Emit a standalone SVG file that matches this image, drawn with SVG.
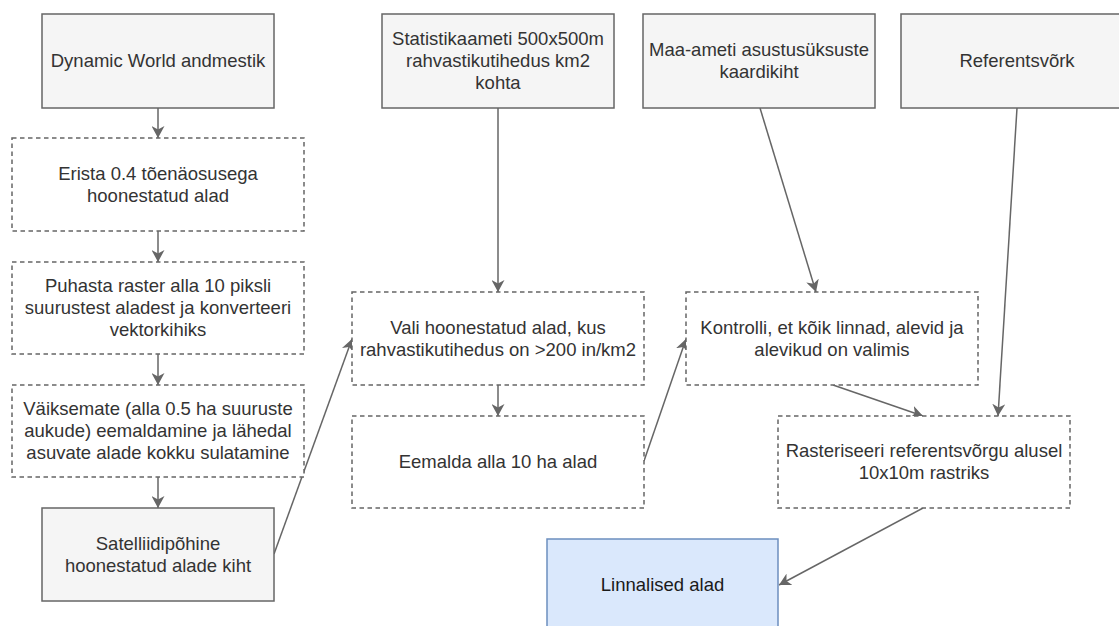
<svg xmlns="http://www.w3.org/2000/svg" width="1119" height="626" viewBox="0 0 1119 626">
  <style>
    .src { fill: #f5f5f5; stroke: #666666; stroke-width: 1.5; }
    .step { fill: #ffffff; stroke: #666666; stroke-width: 1.5; stroke-dasharray: 4.5 3.5; }
    .out { fill: #dae8fc; stroke: #6c8ebf; stroke-width: 1.5; }
    text { font-family: "Liberation Sans", Arial, sans-serif; font-size: 18.5px; fill: #333333; text-anchor: middle; }
    .dark { fill: #1a1a1a; }
    .edge { fill: none; stroke: #666666; stroke-width: 1.5; marker-end: url(#arrow); }
  </style>
  <defs>
    <marker id="arrow" viewBox="0 0 12 13" refX="12" refY="6.5" markerWidth="12" markerHeight="13" markerUnits="userSpaceOnUse" orient="auto">
      <path d="M0,0 L12,6.5 L0,13 L3.5,6.5 Z" fill="#666666"/>
    </marker>
  </defs>
  <rect width="1119" height="626" fill="#ffffff"/>

  <!-- connectors -->
  <g id="connectors">
    <path class="edge" d="M158,108 L158,138"/>
    <path class="edge" d="M158,231 L158,262"/>
    <path class="edge" d="M158,354 L158,385"/>
    <path class="edge" d="M158,477 L158,508"/>
    <path class="edge" d="M274,554 L352,339"/>
    <path class="edge" d="M498,108 L498,292"/>
    <path class="edge" d="M498,385 L498,416"/>
    <path class="edge" d="M644,461 L686,339"/>
    <path class="edge" d="M760,108 L816,292"/>
    <path class="edge" d="M1017,108 L998,416"/>
    <path class="edge" d="M833,385 L923,416"/>
    <path class="edge" d="M923,508 L779,585"/>
  </g>

  <!-- left column -->
  <g id="dynamic-world">
    <rect class="src" x="42" y="14" width="232" height="94"/>
    <text x="158" y="67">Dynamic World andmestik</text>
  </g>
  <g id="erista">
    <rect class="step" x="12" y="138" width="292" height="93"/>
    <text x="158" y="179.5">Erista 0.4 tõenäosusega</text>
    <text x="158" y="201.5">hoonestatud alad</text>
  </g>
  <g id="puhasta">
    <rect class="step" x="12" y="262" width="292" height="92"/>
    <text x="158" y="292">Puhasta raster alla 10 piksli</text>
    <text x="158" y="314">suurustest aladest ja konverteeri</text>
    <text x="158" y="336">vektorkihiks</text>
  </g>
  <g id="vaiksemate">
    <rect class="step" x="12" y="385" width="292" height="92"/>
    <text x="158" y="415">Väiksemate (alla 0.5 ha suuruste</text>
    <text x="158" y="437">aukude) eemaldamine ja lähedal</text>
    <text x="158" y="459">asuvate alade kokku sulatamine</text>
  </g>
  <g id="satelliidipohine">
    <rect class="src" x="42" y="508" width="232" height="93"/>
    <text x="158" y="550">Satelliidipõhine</text>
    <text x="158" y="572">hoonestatud alade kiht</text>
  </g>

  <!-- middle column -->
  <g id="statistikaamet">
    <rect class="src" x="382" y="14" width="232" height="94"/>
    <text x="498" y="45">Statistikaameti 500x500m</text>
    <text x="498" y="67">rahvastikutihedus km2</text>
    <text x="498" y="89">kohta</text>
  </g>
  <g id="vali">
    <rect class="step" x="352" y="292" width="292" height="93"/>
    <text x="498" y="333.5">Vali hoonestatud alad, kus</text>
    <text x="498" y="355.5">rahvastikutihedus on &gt;200 in/km2</text>
  </g>
  <g id="eemalda">
    <rect class="step" x="352" y="416" width="292" height="92"/>
    <text x="498" y="468">Eemalda alla 10 ha alad</text>
  </g>

  <!-- right columns -->
  <g id="maa-amet">
    <rect class="src" x="643" y="14" width="232" height="94"/>
    <text x="759" y="56">Maa-ameti asustusüksuste</text>
    <text x="759" y="78">kaardikiht</text>
  </g>
  <g id="referentsvork">
    <rect class="src" x="901" y="14" width="232" height="94"/>
    <text x="1017" y="67">Referentsvõrk</text>
  </g>
  <g id="kontrolli">
    <rect class="step" x="686" y="292" width="292" height="93"/>
    <text x="832" y="333.5">Kontrolli, et kõik linnad, alevid ja</text>
    <text x="832" y="355.5">alevikud on valimis</text>
  </g>
  <g id="rasteriseeri">
    <rect class="step" x="778" y="416" width="292" height="92"/>
    <text x="924" y="457">Rasteriseeri referentsvõrgu alusel</text>
    <text x="924" y="479">10x10m rastriks</text>
  </g>
  <g id="linnalised-alad">
    <rect class="out" x="547" y="539" width="231" height="93"/>
    <text class="dark" x="662.5" y="591">Linnalised alad</text>
  </g>
</svg>
